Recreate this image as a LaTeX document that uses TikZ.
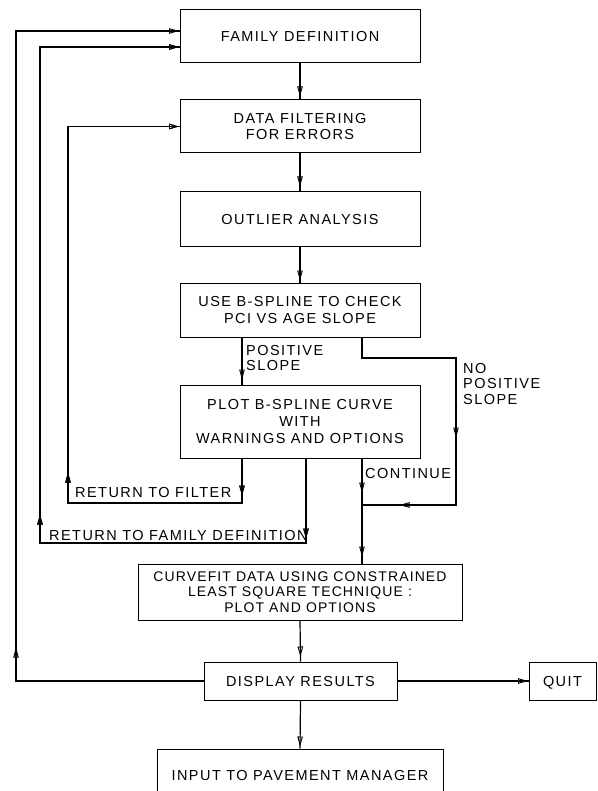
\documentclass[tikz,border=0pt]{standalone}
\usepackage{fontspec}
\setmainfont{Liberation Sans}[LetterSpace=10]
\usetikzlibrary{arrows.meta,decorations.markings}
\tikzset{
  x=1pt, y=-1pt,
  oarr/.tip={Triangle[open,length=10pt,width=5.5pt,line width=0.9pt]},
  box/.style={draw, line width=1pt, inner sep=0pt, align=center, text depth=0pt,
    font=\fontsize{14.5}{16.5}\selectfont},
  lbl/.style={inner sep=0pt, align=left,
    font=\fontsize{14.5}{15.5}\selectfont},
  conn/.style={line width=1.2pt},
  a1/.style={postaction={decorate},
    decoration={markings, mark=at position #1 with {\arrow{oarr}}}},
  a2/.style 2 args={postaction={decorate},
    decoration={markings, mark=at position #1 with {\arrow{oarr}},
                          mark=at position #2 with {\arrow{oarr}}}},
}
\begin{document}
\begin{tikzpicture}
\useasboundingbox (0,0) rectangle (597,791);
% boxes
\node[box, minimum width=240, minimum height=53] (fam)  at (300,36.5)  {FAMILY DEFINITION};
\node[box, minimum width=240, minimum height=53] (filt) at (300,126.5) {DATA FILTERING\\FOR ERRORS};
\node[box, minimum width=240, minimum height=55] (outl) at (300,219.5) {OUTLIER ANALYSIS};
\node[box, minimum width=240, minimum height=54] (chk)  at (300,310)   {USE B-SPLINE TO CHECK\\PCI VS AGE SLOPE};
\node[box, minimum width=240, minimum height=73, font=\fontsize{14.5}{17}\selectfont] (plot) at (300,421.5) {PLOT B-SPLINE CURVE\\WITH\\WARNINGS AND OPTIONS};
\node[box, minimum width=324, minimum height=56, font=\fontsize{14}{15.5}\selectfont\addfontfeature{LetterSpace=8}] (curve) at (300,592) {CURVEFIT DATA USING CONSTRAINED\\LEAST SQUARE TECHNIQUE :\\PLOT AND OPTIONS};
\node[box, minimum width=193, minimum height=38] (disp) at (300.5,681) {DISPLAY RESULTS};
\node[box, minimum width=67, minimum height=38]  (quit) at (562.5,681) {QUIT};
\node[box, minimum width=286, minimum height=52] (inp)  at (300,775)   {INPUT TO PAVEMENT MANAGER};
% helper coordinates
\coordinate (cA) at (242,0);
\coordinate (cB) at (362,0);
\coordinate (cC) at (306,0);
\coordinate (L1) at (16,0);
\coordinate (L2) at (40,0);
\coordinate (L3) at (68,0);
\coordinate (R)  at (456,0);
\coordinate (yf1) at (0,31);
\coordinate (yf2) at (0,47);
\coordinate (ya) at (0,358);
\coordinate (yb) at (0,505);
\coordinate (yc) at (0,503);
\coordinate (yd) at (0,543);
% main flow
\draw[conn, a1={-3pt}] (fam.south) -- (filt.north);
\draw[conn, a1={-5pt}] (filt.south) -- (outl.north);
\draw[conn, a1={-2pt}] (outl.south) -- (chk.north);
\draw[conn, a1={-5pt}] (chk.south -| cA) -- (plot.north -| cA);
\draw[conn, a2={34pt}{-7pt}] (plot.south -| cB) -- (curve.north -| cB);
\draw[conn, a1={-5pt}] (curve.south) -- (disp.north);
\draw[conn, a1={-2pt}] (disp.south) -- (inp.north);
\draw[conn, a1={-0.5pt}] (disp.east) -- (quit.west);
% no positive slope branch
\draw[conn, a2={194pt}{318pt}] (chk.south -| cB) -- (cB |- ya) -- (R |- ya) -- (R |- yb) -- (cB |- yb);
% return to filter
\draw[conn, a2={37pt}{249pt}, a1={-0.5pt}] (plot.south -| cA) -- (cA |- yc) -- (L3 |- yc) -- (L3 |- filt.west) -- (filt.west);
% return to family definition
\draw[conn, a2={80pt}{379pt}, a1={-0.5pt}] (plot.south -| cC) -- (cC |- yd) -- (L2 |- yd) -- (L2 |- yf2) -- (fam.west |- yf2);
% display loop
\draw[conn, a2={221pt}{-0.5pt}] (disp.west) -- (L1 |- disp.west) -- (L1 |- yf1) -- (fam.west |- yf1);
% labels
\node[lbl, anchor=north west] (lpos) at (246,345) {POSITIVE\\SLOPE};
\node[lbl, anchor=north west] (lnopos) at (463,363) {NO\\POSITIVE\\SLOPE};
\node[lbl, anchor=base west] (lcont) at (365,478) {CONTINUE};
\node[lbl, anchor=base west] (lfilt) at (75,497) {RETURN TO FILTER};
\node[lbl, anchor=base west] (lfam) at (49,540) {RETURN TO FAMILY DEFINITION};
\end{tikzpicture}
\end{document}
